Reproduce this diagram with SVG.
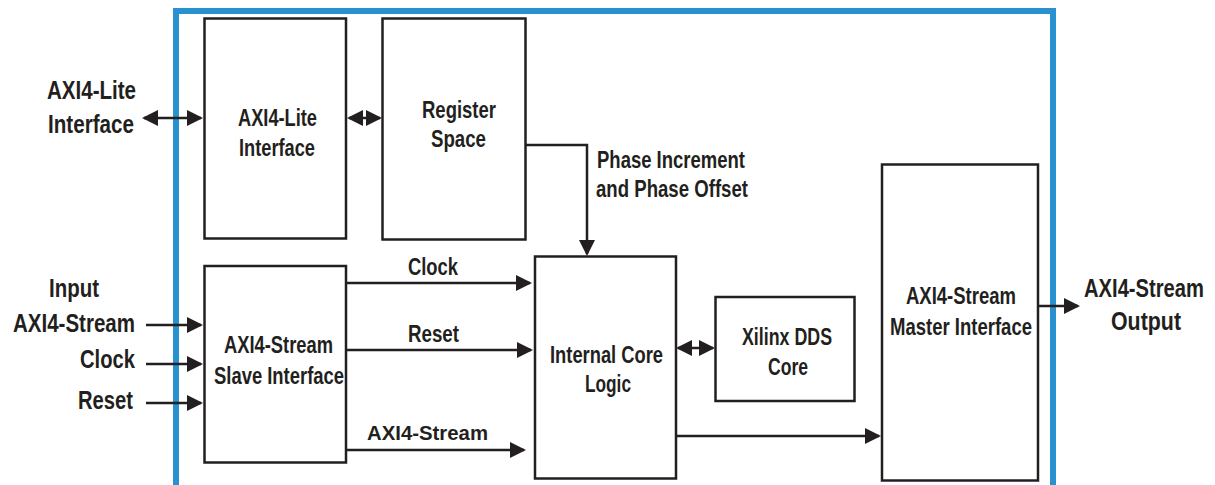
<svg xmlns="http://www.w3.org/2000/svg" width="1215" height="485" viewBox="0 0 1215 485">
<style>
.box{fill:#ffffff;stroke:#231f20;stroke-width:2.5}
.frame{fill:none;stroke:#2792cf;stroke-width:6}
.ln{fill:none;stroke:#231f20;stroke-width:2.5}
.t{font-family:"Liberation Sans",Arial,sans-serif;font-weight:bold;fill:#231f20}
.big{font-size:26px}
.mid{font-size:24px}
.sm{font-size:23px}
.wide{font-size:21px}
</style>
<defs>
<marker id="ah" markerUnits="userSpaceOnUse" markerWidth="16" markerHeight="16" refX="14" refY="8" orient="auto-start-reverse">
<path d="M0,0 L16,8 L0,16 z" fill="#231f20"/>
</marker>
</defs>
<path id="frame" class="frame" d="M176,492 V11 H1053 V492"/>
<g id="axi4lite-if">
<rect class="box" x="204.5" y="18.5" width="141.5" height="220"/>
<text class="t mid" x="238" y="126" textLength="79" lengthAdjust="spacingAndGlyphs">AXI4-Lite</text>
<text class="t mid" x="239" y="156" textLength="76" lengthAdjust="spacingAndGlyphs">Interface</text>
</g>
<g id="register-space">
<rect class="box" x="382.5" y="18.5" width="143" height="221"/>
<text class="t mid" x="422" y="118" textLength="74" lengthAdjust="spacingAndGlyphs">Register</text>
<text class="t mid" x="431" y="147" textLength="55" lengthAdjust="spacingAndGlyphs">Space</text>
</g>
<g id="slave-if">
<rect class="box" x="204.5" y="266" width="141.5" height="196.5"/>
<text class="t mid" x="224" y="353" textLength="109" lengthAdjust="spacingAndGlyphs">AXI4-Stream</text>
<text class="t mid" x="214" y="384" textLength="130" lengthAdjust="spacingAndGlyphs">Slave Interface</text>
</g>
<g id="core-logic">
<rect class="box" x="535" y="256.5" width="141" height="222"/>
<text class="t mid" x="550" y="363" textLength="113" lengthAdjust="spacingAndGlyphs">Internal Core</text>
<text class="t mid" x="585" y="392" textLength="46" lengthAdjust="spacingAndGlyphs">Logic</text>
</g>
<g id="dds-core">
<rect class="box" x="715.5" y="297" width="139" height="104"/>
<text class="t mid" x="742" y="345" textLength="90" lengthAdjust="spacingAndGlyphs">Xilinx DDS</text>
<text class="t mid" x="768" y="375" textLength="40" lengthAdjust="spacingAndGlyphs">Core</text>
</g>
<g id="master-if">
<rect class="box" x="882" y="164.5" width="156" height="316"/>
<text class="t mid" x="906" y="304" textLength="110" lengthAdjust="spacingAndGlyphs">AXI4-Stream</text>
<text class="t mid" x="890" y="335" textLength="142" lengthAdjust="spacingAndGlyphs">Master Interface</text>
</g>
<g id="ext-labels">
<text class="t big" x="47" y="99" textLength="89" lengthAdjust="spacingAndGlyphs">AXI4-Lite</text>
<text class="t big" x="48" y="133" textLength="86" lengthAdjust="spacingAndGlyphs">Interface</text>
<text class="t big" x="49" y="297" textLength="50" lengthAdjust="spacingAndGlyphs">Input</text>
<text class="t big" x="13" y="332" textLength="122" lengthAdjust="spacingAndGlyphs">AXI4-Stream</text>
<text class="t big" x="80" y="368" textLength="55" lengthAdjust="spacingAndGlyphs">Clock</text>
<text class="t big" x="78" y="409" textLength="55" lengthAdjust="spacingAndGlyphs">Reset</text>
<text class="t big" transform="translate(1084,297) scale(0.776,1)" x="0" y="0">AXI4-Stream</text>
<text class="t big" x="1111" y="330" textLength="70" lengthAdjust="spacingAndGlyphs">Output</text>
</g>
<g id="connectors">
<line class="ln" x1="144" y1="118" x2="201" y2="118" marker-start="url(#ah)" marker-end="url(#ah)"/>
<line class="ln" x1="349" y1="118" x2="380" y2="118" marker-start="url(#ah)" marker-end="url(#ah)"/>
<path class="ln" d="M526,145 H587 V254" marker-end="url(#ah)"/>
<line class="ln" x1="146" y1="325" x2="201" y2="325" marker-end="url(#ah)"/>
<line class="ln" x1="146" y1="364" x2="201" y2="364" marker-end="url(#ah)"/>
<line class="ln" x1="146" y1="403" x2="201" y2="403" marker-end="url(#ah)"/>
<line class="ln" x1="346" y1="283" x2="530" y2="283" marker-end="url(#ah)"/>
<line class="ln" x1="346" y1="350" x2="531" y2="350" marker-end="url(#ah)"/>
<line class="ln" x1="346" y1="450" x2="524" y2="450" marker-end="url(#ah)"/>
<line class="ln" x1="678" y1="348" x2="713" y2="348" marker-start="url(#ah)" marker-end="url(#ah)"/>
<line class="ln" x1="676" y1="436" x2="879" y2="436" marker-end="url(#ah)"/>
<line class="ln" x1="1038" y1="306" x2="1078" y2="306" marker-end="url(#ah)"/>
<text class="t sm" x="597" y="168" textLength="148" lengthAdjust="spacingAndGlyphs">Phase Increment</text>
<text class="t sm" x="596" y="197" textLength="152" lengthAdjust="spacingAndGlyphs">and Phase Offset</text>
<text class="t sm" x="408" y="275" textLength="50" lengthAdjust="spacingAndGlyphs">Clock</text>
<text class="t sm" x="408" y="342" textLength="51" lengthAdjust="spacingAndGlyphs">Reset</text>
<text class="t wide" x="367" y="440" textLength="121" lengthAdjust="spacingAndGlyphs">AXI4-Stream</text>
</g>
</svg>
